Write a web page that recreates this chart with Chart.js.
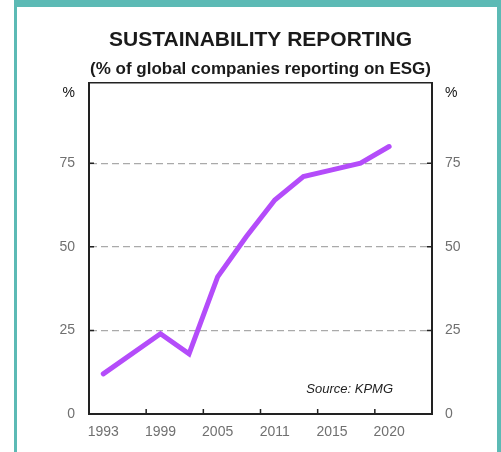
<!DOCTYPE html>
<html>
<head>
<meta charset="utf-8">
<script src="https://cdn.jsdelivr.net/npm/chart.js@4.4.1/dist/chart.umd.min.js"></script>
<style>
    html, body { margin: 0; padding: 0; background: #fff; }
    .wrap { position: relative; width: 501px; height: 452px; overflow: hidden; }
    .frame {
        position: absolute; left: 14px; top: 0; right: 0; height: 470px;
        box-sizing: border-box;
        border-top: 7px solid #5cbab5;
        border-left: 3px solid #5cbab5;
        border-right: 4px solid #5cbab5;
        background: #fff;
    }
    canvas { position: absolute; left: 0; top: 0; }
</style>
</head>
<body>
<div class="wrap">
    <div class="frame"></div>
    <canvas id="esgChart" width="501" height="452"></canvas>
</div>
<script>
// KPMG survey years and share of companies reporting (%)
const years = ['1993', '1996', '1999', '2002', '2005', '2008', '2011', '2013', '2015', '2017', '2020'];
const reporting = [12, null, 24, 18, 41, 53, 64, 71, 73, 75, 80];
const xTickYears = ['1993', '1999', '2005', '2011', '2015', '2020'];
const yTicks = [0, 25, 50, 75];
const yGrid = [25, 50, 75];

const PCT_POS = 96; // where the "%" unit label sits

const font = 'Arial, "Liberation Sans", sans-serif';
const tickGrey = '#707070';
const axisDark = '#222';

// small inward tick marks + source note
const extras = {
    id: 'extras',
    afterDraw(chart) {
        const { ctx, chartArea: a, scales } = chart;
        const x = scales.x, y = scales.y;
        ctx.save();
        ctx.strokeStyle = axisDark;
        ctx.lineWidth = 1.5;
        ctx.beginPath();
        for (let i = 0; i < xTickYears.length - 1; i++) {
            const px = x.getPixelForValue(years.indexOf(xTickYears[i]) + 1.5);
            ctx.moveTo(px, a.bottom);
            ctx.lineTo(px, a.bottom - 5);
        }
        yGrid.forEach(v => {
            const py = y.getPixelForValue(v);
            ctx.moveTo(a.left, py);
            ctx.lineTo(a.left + 5, py);
            ctx.moveTo(a.right, py);
            ctx.lineTo(a.right - 5, py);
        });
        ctx.stroke();

        ctx.fillStyle = axisDark;
        ctx.font = 'italic 13px ' + font;
        ctx.textAlign = 'right';
        ctx.textBaseline = 'middle';
        ctx.fillText('Source: KPMG', a.right - 39, a.bottom - 25);
        ctx.restore();
    }
};

function yAxis(position, width, pad) {
    return {
        type: 'linear',
        position: position,
        min: 0,
        max: 99,
        afterBuildTicks: axis => { axis.ticks = yTicks.concat([PCT_POS]).map(v => ({ value: v })); },
        afterFit: axis => { axis.width = width; },
        ticks: {
            autoSkip: false,
            padding: pad,
            color: ctx => ctx.tick && ctx.tick.value === PCT_POS ? '#111' : tickGrey,
            font: { family: font, size: 14 },
            callback: v => v === PCT_POS ? '%' : v
        },
        grid: {
            display: position === 'left',
            drawTicks: false,
            lineWidth: 1.3,
            color: ctx => ctx.tick && yGrid.includes(ctx.tick.value) ? '#aaaaaa' : 'rgba(0,0,0,0)'
        },
        border: { display: true, color: axisDark, width: 2, dash: [7, 4] }
    };
}

new Chart(document.getElementById('esgChart'), {
    type: 'line',
    data: {
        datasets: [{
            data: reporting.map((v, i) => ({ x: i, y: v })),
            borderColor: '#b44cfa',
            borderWidth: 5,
            borderCapStyle: 'round',
            borderJoinStyle: 'miter',
            pointRadius: 0,
            tension: 0,
            spanGaps: true
        }]
    },
    options: {
        responsive: false,
        animation: false,
        layout: { padding: 0 },
        plugins: {
            legend: { display: false },
            tooltip: { enabled: false },
            title: {
                display: true,
                fullSize: false,
                text: 'SUSTAINABILITY REPORTING',
                color: '#1a1a1a',
                font: { family: font, size: 21, weight: 'bold' },
                padding: { top: 28, bottom: 0 }
            },
            subtitle: {
                display: true,
                fullSize: false,
                text: '(% of global companies reporting on ESG)',
                color: '#1a1a1a',
                font: { family: font, size: 17, weight: 'bold' },
                padding: { top: 6, bottom: 3.4 }
            }
        },
        scales: {
            x: {
                type: 'linear',
                min: -0.5,
                max: 11.5,
                afterBuildTicks: axis => { axis.ticks = xTickYears.map(t => ({ value: years.indexOf(t) })); },
                afterFit: axis => { axis.height = 38; },
                ticks: {
                    autoSkip: false,
                    maxRotation: 0,
                    padding: 10,
                    color: tickGrey,
                    font: { family: font, size: 14 },
                    callback: v => years[v]
                },
                grid: { display: false, drawTicks: false },
                border: { display: true, color: axisDark, width: 2 }
            },
            xTop: {
                type: 'linear',
                position: 'top',
                min: -0.5,
                max: 11.5,
                ticks: { display: false },
                grid: { display: false, drawTicks: false },
                border: { display: true, color: axisDark, width: 1.5 }
            },
            y: yAxis('left', 89, 14),
            yRight: yAxis('right', 69, 13)
        }
    },
    plugins: [extras]
});
</script>
</body>
</html>
